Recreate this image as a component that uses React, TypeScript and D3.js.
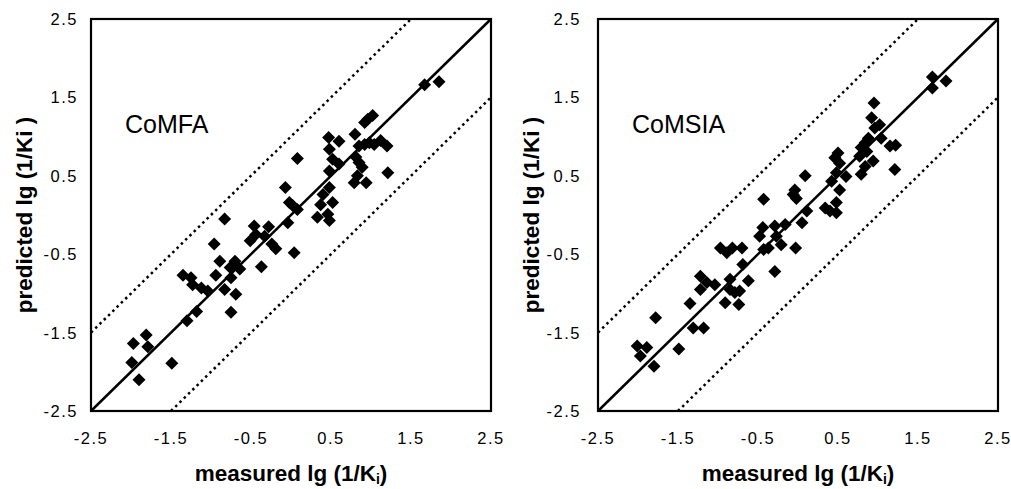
import * as d3 from 'd3'

// measured vs predicted lg(1/Ki), CoMFA model
const comfaMeasured = [
  1.67, 1.85, 1.02, 0.96, 0.92, 0.80, 0.47, 0.60, 1.12, 1.20, 0.48, 0.08, 0.52, 0.60, 0.48,
  0.85, 0.92, 0.98, 1.04, 0.81, 0.85, 0.89, 1.21, 0.79, 0.94, 0.83, -0.07, 0.48, 0.40, 0.52,
  0.37, -0.02, 0.02, 0.08, 0.33, 0.46, 0.48, -0.04, -0.83, -0.46, -0.28, -0.44, -0.33, -0.51,
  -0.24, -0.19, 0.04, -0.96, -0.89, -0.70, -0.76, -0.64, -0.37, -0.94, -1.35, -1.25, -1.23,
  -1.12, -1.04, -0.75, -0.83, -0.69, -1.18, -0.75, -1.30, -1.81, -1.97, -1.79, -1.99, -1.49, -1.90,
]
const comfaPredicted = [
  1.66, 1.70, 1.27, 1.22, 1.18, 1.03, 0.99, 0.94, 0.95, 0.88, 0.84, 0.72, 0.71, 0.65, 0.56,
  0.88, 0.90, 0.92, 0.90, 0.74, 0.67, 0.61, 0.54, 0.41, 0.41, 0.50, 0.35, 0.35, 0.26, 0.16,
  0.13, 0.16, 0.12, 0.07, -0.03, 0.01, -0.07, -0.10, -0.05, -0.14, -0.15, -0.25, -0.27, -0.33,
  -0.37, -0.43, -0.48, -0.37, -0.59, -0.59, -0.67, -0.69, -0.66, -0.77, -0.77, -0.80, -0.89,
  -0.93, -0.97, -0.80, -0.95, -1.01, -1.23, -1.24, -1.35, -1.53, -1.64, -1.68, -1.88, -1.89, -2.10,
]

// CoMSIA model
const comsiaMeasured = [
  1.68, 1.68, 1.85, 0.95, 0.92, 1.02, 0.96, 1.04, 1.15, 1.22, 0.88, 0.84, 0.79, 0.86, 0.77,
  0.94, 0.84, 0.79, 1.21, 0.50, 0.46, 0.52, 0.60, 0.48, 0.42, 0.09, 0.52, -0.04, -0.06, -0.02,
  -0.43, 0.34, 0.40, 0.48, 0.48, 0.11, 0.05, -0.16, -0.44, -0.29, -0.48, -0.27, -0.21, -0.03,
  -0.43, -0.37, -0.97, -0.89, -0.82, -0.70, -0.69, -0.29, -1.22, -1.14, -1.04, -1.22, -0.85,
  -0.62, -0.85, -0.79, -0.73, -0.91, -0.74, -1.35, -1.78, -1.31, -1.18, -2.01, -1.89, -1.97,
  -1.49, -1.80,
]
const comsiaPredicted = [
  1.76, 1.62, 1.71, 1.43, 1.24, 1.15, 1.11, 0.98, 0.88, 0.89, 0.98, 0.92, 0.86, 0.81, 0.75,
  0.69, 0.62, 0.52, 0.58, 0.79, 0.73, 0.66, 0.49, 0.54, 0.43, 0.50, 0.32, 0.32, 0.26, 0.21,
  0.20, 0.09, 0.05, 0.03, 0.16, 0.05, -0.10, -0.12, -0.16, -0.14, -0.27, -0.27, -0.38, -0.42,
  -0.44, -0.42, -0.42, -0.48, -0.42, -0.42, -0.63, -0.72, -0.78, -0.86, -0.89, -0.95, -0.82,
  -0.84, -0.95, -0.99, -0.97, -1.12, -1.14, -1.13, -1.31, -1.44, -1.44, -1.67, -1.69, -1.80,
  -1.71, -1.93,
]

const ticks = [-2.5, -1.5, -0.5, 0.5, 1.5, 2.5]
const bandOffsets = [1, -1]

const font = '"Liberation Sans", Arial, sans-serif'
const diamond = 'M0,-6.5L6.5,0L0,6.5L-6.5,0Z'

type PanelProps = {
  left: number
  title: string
  measured: number[]
  predicted: number[]
  labelX: number
  tickGap: number
}

function Panel({ left, title, measured, predicted, labelX, tickGap }: PanelProps) {
  const top = 19, size = 400, h = 392
  const x = d3.scaleLinear().domain([-2.5, 2.5]).range([left, left + size])
  const y = d3.scaleLinear().domain([-2.5, 2.5]).range([top + h, top])
  const line = d3.line<[number, number]>().x(d => x(d[0])).y(d => y(d[1]))

  // dotted +/-1 log unit band, clipped to the frame
  const band = (off: number): [number, number][] => {
    const x0 = Math.max(-2.5, -2.5 - off)
    const x1 = Math.min(2.5, 2.5 - off)
    return [[x0, x0 + off], [x1, x1 + off]]
  }

  return (
    <g>
      {bandOffsets.map(off => (
        <path key={off} d={line(band(off)) || ''} fill="none" stroke="#000"
          strokeWidth={2.5} strokeDasharray="2.5,3.5" />
      ))}
      <path d={line([[-2.5, -2.5], [2.5, 2.5]]) || ''} fill="none" stroke="#000" strokeWidth={2.5} />
      {measured.map((m, i) => (
        <path key={i} d={diamond} transform={`translate(${x(m)},${y(predicted[i])})`} fill="#000" />
      ))}
      <rect x={left} y={top} width={size} height={h} fill="none" stroke="#000" strokeWidth={2.2} />
      {ticks.map(t => (
        <text key={'y' + t} x={left - tickGap} y={y(t) + 6} textAnchor="end" letterSpacing={1.5}
          fontSize={16.5} fontFamily={font} fill="#000">{t.toFixed(1)}</text>
      ))}
      {ticks.map(t => (
        <text key={'x' + t} x={x(t)} y={top + h + 33} textAnchor="middle" letterSpacing={1.5}
          fontSize={16.5} fontFamily={font} fill="#000">{t.toFixed(1)}</text>
      ))}
      <text x={left + 34} y={133} fontSize={25} fontFamily={font} fill="#000">{title}</text>
      <text x={left + size / 2} y={481} textAnchor="middle" fontSize={22.5}
        fontWeight="bold" fontFamily={font} fill="#000">
        measured lg (1/K<tspan fontSize={14} dy={3}>i</tspan><tspan dy={-3}>)</tspan>
      </text>
      <text transform={`translate(${labelX},${top + h / 2}) rotate(-90)`} textAnchor="middle"
        fontSize={22.5} fontWeight="bold" fontFamily={font} fill="#000">
        predicted lg (1/Ki )
      </text>
    </g>
  )
}

export default function App() {
  return (
    <svg width={1011} height={489} style={{ position: 'absolute', left: 0, top: 0, background: '#fff' }}>
      <rect width={1011} height={489} fill="#fff" />
      <Panel left={91} title="CoMFA" measured={comfaMeasured} predicted={comfaPredicted}
        labelX={32} tickGap={13} />
      <Panel left={598} title="CoMSIA" measured={comsiaMeasured} predicted={comsiaPredicted}
        labelX={539} tickGap={17} />
    </svg>
  )
}
